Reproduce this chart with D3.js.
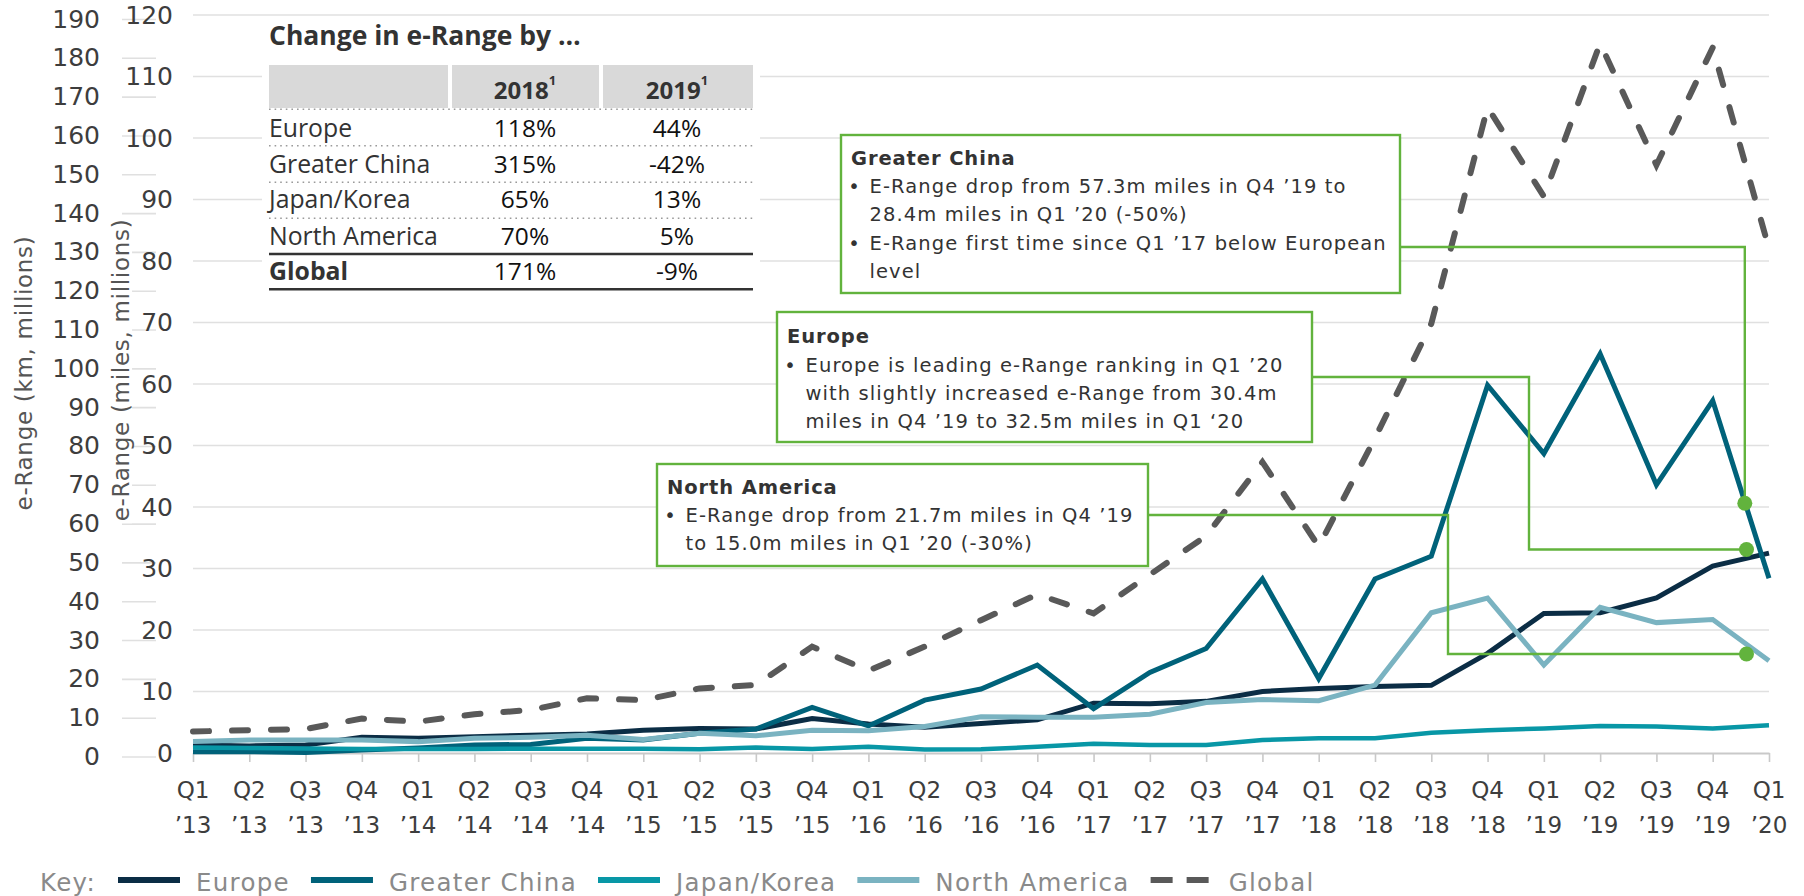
<!DOCTYPE html>
<html><head><meta charset="utf-8">
<script src="https://cdn.jsdelivr.net/npm/d3@7"></script>
<style>body{margin:0;background:#fff} svg{display:block}</style>
</head><body>
<svg id="chart" width="1804" height="896"></svg>
<script>
// ---------- DATA ----------
const quarters = ["Q1","Q2","Q3","Q4","Q1","Q2","Q3","Q4","Q1","Q2","Q3","Q4","Q1","Q2","Q3","Q4",
                  "Q1","Q2","Q3","Q4","Q1","Q2","Q3","Q4","Q1","Q2","Q3","Q4","Q1"];
const years = ["’13","’13","’13","’13","’14","’14","’14","’14","’15","’15","’15","’15","’16","’16","’16","’16",
               "’17","’17","’17","’17","’18","’18","’18","’18","’19","’19","’19","’19","’20"];
// e-Range, miles (millions)
const europe   = [1.3,1.15,1.3,2.55,2.4,2.65,2.9,3.1,3.7,4.0,3.9,5.6,4.7,4.2,4.8,5.4,8.1,8.0,8.4,10.0,10.5,10.8,11.0,16.2,22.7,22.8,25.2,30.4,32.5];
const grChina  = [0.2,0.2,0.1,0.5,0.8,1.3,1.4,2.4,2.1,3.2,3.9,7.4,4.4,8.6,10.4,14.3,7.2,13.1,17.0,28.3,12.1,28.3,32.0,59.8,48.7,64.9,43.6,57.3,28.4];
const japanKor = [0.9,0.8,0.75,0.65,0.65,0.65,0.7,0.7,0.7,0.6,0.9,0.65,1.0,0.55,0.6,1.0,1.5,1.3,1.3,2.1,2.4,2.4,3.3,3.7,4.0,4.4,4.3,4.0,4.5];
const nAmerica = [1.85,2.1,2.1,2.1,1.85,2.4,2.55,2.9,2.2,3.2,2.8,3.7,3.6,4.3,5.9,5.8,5.8,6.3,8.2,8.7,8.5,11.05,22.8,25.2,14.3,23.7,21.2,21.7,15.0];
const globalR  = [3.5,3.7,3.9,5.6,5.1,6.3,7.0,8.9,8.6,10.5,11.05,17.3,13.4,17.3,21.6,25.8,22.7,29.0,35.3,47.3,33.6,51.2,69.8,105.0,90.5,115.4,95.6,114.7,82.0];
const seriesNames = ["Europe","Greater China","Japan/Korea","North America","Global"];

const milesTicks = d3.range(0, 121, 10);
const kmTicks = d3.range(0, 191, 10);

// table
const tableTitle = "Change in e-Range by …";
const tableYears = ["2018","2019"];
const tableRegions = ["Europe","Greater China","Japan/Korea","North America","Global"];
const change2018 = ["118%","315%","65%","70%","171%"];
const change2019 = ["44%","-42%","13%","5%","-9%"];

// callouts (marker position: quarter index, miles value)
const calloutTitles = ["Greater China","Europe","North America"];
const calloutLines = [
  [["E-Range drop from 57.3m miles in Q4 ’19 to","28.4m miles in Q1 ’20 (-50%)"],["E-Range first time since Q1 ’17 below European","level"]],
  [["Europe is leading e-Range ranking in Q1 ’20","with slightly increased e-Range from 30.4m","miles in Q4 ’19 to 32.5m miles in Q1 ‘20"]],
  [["E-Range drop from 21.7m miles in Q4 ’19","to 15.0m miles in Q1 ’20 (-30%)"]]
];
const calloutIdx = [27.57, 27.6, 27.6];
const calloutVal = [40.6, 33.1, 16.1];

// ---------- STYLE / LAYOUT ----------
const colors = ["#0b2d45","#00627a","#0897a6","#7ab3c1","#595959"];
const widths = [5,5,4.5,5,6];
const green = "#62b33d";
const axisFont = "DejaVu Sans";
const svg = d3.select("#chart");

const x = d3.scaleLinear().domain([0, quarters.length - 1]).range([193, 1769]);
const y = d3.scaleLinear().domain([0, 120]).range([753, 15]);
const yKm = d3.scaleLinear().domain([0, 190]).range([756.5, 19]);

// gridlines
svg.append("g").selectAll("line").data(milesTicks.filter(d => d > 0)).join("line")
  .attr("x1", x(0)).attr("x2", x(quarters.length - 1))
  .attr("y1", d => y(d)).attr("y2", d => y(d))
  .attr("stroke", "#e0e0e0").attr("stroke-width", 1.6);

// km axis
const gKm = svg.append("g").attr("transform", "translate(156,0)")
  .call(d3.axisLeft(yKm).tickValues(kmTicks).tickSize(34).tickPadding(22).tickFormat(d3.format("d")));
gKm.select(".domain").remove();
gKm.selectAll(".tick line").attr("stroke", "#e0e0e0").attr("stroke-width", 1.6);
gKm.selectAll(".tick text").attr("font-family", axisFont).attr("font-size", 25).attr("fill", "#3d3d3d");

// miles axis
const gMi = svg.append("g").attr("transform", "translate(173,0)")
  .call(d3.axisLeft(y).tickValues(milesTicks).tickSize(0).tickPadding(0).tickFormat(d3.format("d")));
gMi.select(".domain").remove();
gMi.selectAll(".tick text").attr("font-family", axisFont).attr("font-size", 25).attr("fill", "#3d3d3d");

// axis titles
function vTitle(cx, cy, txt) {
  const g = svg.append("g").attr("transform", `translate(${cx},${cy}) rotate(-90)`);
  const bg = g.append("rect").attr("fill", "#fff");
  const t = g.append("text").attr("text-anchor", "middle").attr("dy", "0.35em")
    .attr("font-family", axisFont).attr("font-size", 23).attr("letter-spacing", 0.7)
    .attr("fill", "#555").text(txt);
  const b = t.node().getBBox();
  bg.attr("x", b.x - 2).attr("y", b.y + 2).attr("width", b.width + 4).attr("height", b.height - 4);
}
vTitle(24, 373, "e-Range (km, millions)");
vTitle(121, 370, "e-Range (miles, millions)");

// x axis
const gX = svg.append("g").attr("transform", `translate(0,${y(0)})`)
  .call(d3.axisBottom(x).tickValues(d3.range(quarters.length)).tickSize(9).tickSizeOuter(0).tickFormat(""));
gX.select(".domain").attr("stroke", "#c9c9c9").attr("stroke-width", 2);
gX.selectAll(".tick line").attr("stroke", "#c9c9c9").attr("stroke-width", 1.6);
const xl = svg.append("g").attr("font-family", axisFont).attr("font-size", 23).attr("fill", "#3d3d3d").attr("text-anchor", "middle");
xl.selectAll("text.q").data(quarters).join("text").attr("class", "q")
  .attr("x", (d, i) => x(i)).attr("y", 798).text(d => d);
xl.selectAll("text.yr").data(years).join("text").attr("class", "yr")
  .attr("x", (d, i) => x(i)).attr("y", 833).text(d => d);

// series lines
const allSeries = [europe, grChina, japanKor, nAmerica, globalR];
const line = d3.line().x((d, i) => x(i)).y(d => y(d));
const drawOrder = [0, 1, 2, 3, 4];
svg.append("g").selectAll("path").data(drawOrder).join("path")
  .attr("d", k => line(allSeries[k]))
  .attr("fill", "none")
  .attr("stroke", k => colors[k])
  .attr("stroke-width", k => widths[k])
  .attr("stroke-linejoin", "miter")
  .attr("stroke-linecap", k => k === 4 ? "round" : "butt")
  .attr("stroke-dasharray", k => k === 4 ? "16,23" : null);

// ---------- TABLE ----------
const tf = "Open Sans";
const tbl = svg.append("g");
tbl.append("rect").attr("x", 262).attr("y", 26).attr("width", 498).attr("height", 270).attr("fill", "#fff");
tbl.append("text").attr("x", 269).attr("y", 45).attr("font-family", tf).attr("font-weight", 700)
  .attr("font-size", 26.5).attr("fill", "#333").text(tableTitle);
const cols = [[269, 448], [452, 599], [603, 753]];
tbl.selectAll("rect.h").data(cols).join("rect").attr("class", "h")
  .attr("x", d => d[0]).attr("y", 65).attr("width", d => d[1] - d[0]).attr("height", 43).attr("fill", "#d9d9d9");
const colCx = [525, 677];
tableYears.forEach((yr, j) => {
  const t = tbl.append("text").attr("x", colCx[j]).attr("y", 99).attr("text-anchor", "middle")
    .attr("font-family", tf).attr("font-weight", 700).attr("font-size", 24).attr("fill", "#333");
  t.append("tspan").text(yr);
  t.append("tspan").attr("font-size", 13).attr("dy", -14).text("1");
});
const rowBase = [136.7, 173.3, 208.3, 245, 280];
const sepDotted = [109.3, 145.7, 182.3, 218.3];
const sepSolid = [254, 289.3];
tbl.selectAll("line.dot").data(sepDotted).join("line").attr("class", "dot")
  .attr("x1", 269).attr("x2", 753).attr("y1", d => d).attr("y2", d => d)
  .attr("stroke", "#9a9a9a").attr("stroke-width", 1.6).attr("stroke-dasharray", "1.6,4");
tbl.selectAll("line.sol").data(sepSolid).join("line").attr("class", "sol")
  .attr("x1", 269).attr("x2", 753).attr("y1", d => d).attr("y2", d => d)
  .attr("stroke", "#333").attr("stroke-width", 2.4);
tableRegions.forEach((r, i) => {
  tbl.append("text").attr("x", 269).attr("y", rowBase[i]).attr("font-family", tf)
    .attr("font-weight", i === 4 ? 700 : 400).attr("font-size", 24.8).attr("fill", "#333").text(r);
  [change2018[i], change2019[i]].forEach((v, j) => {
    tbl.append("text").attr("x", colCx[j]).attr("y", rowBase[i]).attr("text-anchor", "middle")
      .attr("font-family", tf).attr("font-size", 24.5).attr("fill", "#111").text(v);
  });
});

// ---------- CALLOUTS ----------
const boxes = [[841, 135, 1400, 293], [777, 312, 1312, 442], [657, 464, 1148, 566]];
const titleBase = [165, 343.3, 494];
const lineStep = 28.2;
const connY = [247, 377, 515];
const elbowX = [null, 1529, 1448];
const ag = svg.append("g");
calloutTitles.forEach((ttl, k) => {
  const b = boxes[k];
  const mx = x(calloutIdx[k]), my = y(calloutVal[k]);
  let pts;
  if (elbowX[k] === null) pts = [[b[2], connY[k]], [mx, connY[k]], [mx, my]];
  else pts = [[b[2], connY[k]], [elbowX[k], connY[k]], [elbowX[k], my], [mx, my]];
  ag.append("path").attr("d", d3.line()(pts)).attr("fill", "none").attr("stroke", green).attr("stroke-width", 2.4);
  ag.append("rect").attr("x", b[0]).attr("y", b[1]).attr("width", b[2] - b[0]).attr("height", b[3] - b[1])
    .attr("fill", "#fff").attr("stroke", green).attr("stroke-width", 2.4);
  ag.append("text").attr("x", b[0] + 10).attr("y", titleBase[k]).attr("font-family", axisFont)
    .attr("font-weight", 700).attr("font-size", 19.5).attr("letter-spacing", 0.9).attr("fill", "#333").text(ttl);
  let ln = 1;
  calloutLines[k].forEach(bullet => {
    bullet.forEach((txt, j) => {
      const yy = titleBase[k] + ln * lineStep;
      if (j === 0) ag.append("text").attr("x", b[0] + 13).attr("y", yy).attr("text-anchor", "middle")
        .attr("font-family", axisFont).attr("font-size", 19.5).attr("fill", "#333").text("•");
      ag.append("text").attr("x", b[0] + 28.5).attr("y", yy).attr("font-family", axisFont)
        .attr("font-size", 19.5).attr("letter-spacing", 1.1).attr("fill", "#333").text(txt);
      ln++;
    });
  });
  ag.append("circle").attr("cx", mx).attr("cy", my).attr("r", 7.5).attr("fill", green);
});

// ---------- LEGEND ----------
const lg = svg.append("g").attr("font-family", axisFont).attr("font-size", 24.5).attr("letter-spacing", 1.3).attr("fill", "#8a8a8a");
lg.append("text").attr("x", 40).attr("y", 891).text("Key:");
let lx = 118;
seriesNames.forEach((n, k) => {
  lg.append("line").attr("x1", lx).attr("x2", lx + 62).attr("y1", 880).attr("y2", 880)
    .attr("stroke", colors[k]).attr("stroke-width", 6)
    .attr("stroke-dasharray", k === 4 ? "22,14" : null);
  const t = lg.append("text").attr("x", lx + 78).attr("y", 891).text(n);
  lx = lx + 78 + t.node().getComputedTextLength() + 21;
});
</script>
</body></html>
